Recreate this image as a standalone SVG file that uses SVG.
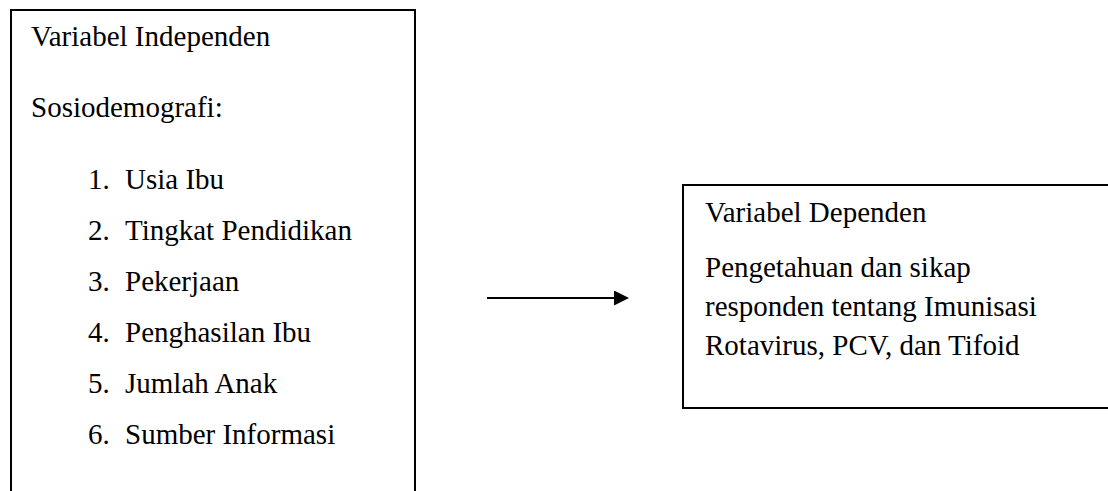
<svg xmlns="http://www.w3.org/2000/svg" width="1108" height="491" viewBox="0 0 1108 491">
<style>
text{font-family:"Liberation Serif","Times New Roman",serif;font-size:29px;fill:#000}
.box{fill:none;stroke:#000;stroke-width:2}
.conn{stroke:#000;stroke-width:2;fill:none}
</style>
<defs>
<marker id="ah" markerWidth="16" markerHeight="16" refX="0" refY="7.5" orient="auto" markerUnits="userSpaceOnUse">
<path d="M0,0 L15,7.5 L0,15 Z" fill="#000"/>
</marker>
</defs>
<rect width="1108" height="491" fill="#fff"/>
<g id="independen">
<path class="box" d="M11,495 V10 H415 V495"/>
<text x="31" y="46">Variabel Independen</text>
<text x="31" y="117">Sosiodemografi:</text>
<text x="88" y="189">1.</text><text x="125" y="189">Usia Ibu</text>
<text x="88" y="240">2.</text><text x="125" y="240">Tingkat Pendidikan</text>
<text x="88" y="291">3.</text><text x="125" y="291">Pekerjaan</text>
<text x="88" y="342">4.</text><text x="125" y="342">Penghasilan Ibu</text>
<text x="88" y="393">5.</text><text x="125" y="393">Jumlah Anak</text>
<text x="88" y="444">6.</text><text x="125" y="444">Sumber Informasi</text>
</g>
<g id="dependen">
<path class="box" d="M1110,185 H683 V408 H1110"/>
<text x="705" y="222">Variabel Dependen</text>
<text x="705" y="277">Pengetahuan dan sikap</text>
<text x="705" y="316">responden tentang Imunisasi</text>
<text x="705" y="355">Rotavirus, PCV, dan Tifoid</text>
</g>
<g id="connectors">
<line class="conn" x1="487" y1="298" x2="614" y2="298" marker-end="url(#ah)"/>
</g>
</svg>
